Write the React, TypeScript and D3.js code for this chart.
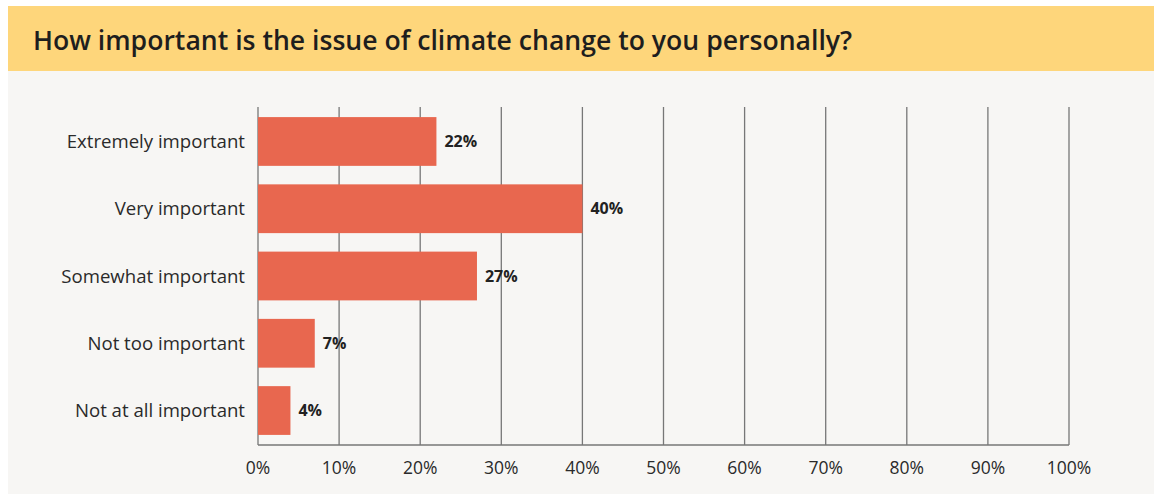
import React from "react";
import * as d3 from "d3";

const categories = [
  "Extremely important",
  "Very important",
  "Somewhat important",
  "Not too important",
  "Not at all important",
];
const values = [22, 40, 27, 7, 4];
const ticks = [0, 10, 20, 30, 40, 50, 60, 70, 80, 90, 100];
const title = "How important is the issue of climate change to you personally?";

export default function App() {
  const W = 1154;
  const H = 495;
  const x = d3.scaleLinear().domain([0, 100]).range([258, 1069]);
  const y = d3
    .scaleBand<string>()
    .domain(categories)
    .range([107, 445])
    .paddingInner(0.275)
    .paddingOuter(0.15);
  const font = "'Open Sans', 'Noto Sans', sans-serif";
  return (
    <div style={{ position: "absolute", left: 0, top: 0 }}>
      <svg width={W} height={H} style={{ display: "block" }}>
        <rect x={0} y={0} width={W} height={H} fill="#ffffff" />
        <rect x={8} y={6} width={W - 8} height={65} fill="#fed67b" />
        <rect x={8} y={71} width={W - 8} height={423} fill="#f7f6f4" />
        <text
          x={33}
          y={50}
          fontFamily={font}
          fontWeight={600}
          fontSize={26.6}
          fill="#1e1e1e"
        >
          {title}
        </text>
        {ticks.map((t) => (
          <line
            key={"g" + t}
            x1={x(t)}
            x2={x(t)}
            y1={107}
            y2={445}
            stroke="#777"
            strokeWidth={1.3}
          />
        ))}
        <line x1={x(0)} x2={x(100)} y1={445} y2={445} stroke="#777" strokeWidth={1.3} />
        {categories.map((c, i) => (
          <g key={c}>
            <rect
              x={x(0)}
              y={y(c)}
              width={x(values[i]) - x(0)}
              height={y.bandwidth()}
              fill="#e8674f"
            />
            <text
              x={245}
              y={(y(c) as number) + y.bandwidth() / 2}
              dy="0.35em"
              textAnchor="end"
              fontFamily={font}
              fontSize={18.6}
              fill="#2a2a2a"
            >
              {c}
            </text>
            <text
              x={x(values[i]) + 8}
              y={(y(c) as number) + y.bandwidth() / 2}
              dy="0.35em"
              fontFamily={font}
              fontWeight={700}
              fontSize={16}
              fill="#222"
            >
              {values[i] + "%"}
            </text>
          </g>
        ))}
        {ticks.map((t) => (
          <text
            key={"t" + t}
            x={x(t)}
            y={474}
            textAnchor="middle"
            fontFamily={font}
            fontSize={17.5}
            fill="#2a2a2a"
          >
            {t + "%"}
          </text>
        ))}
      </svg>
    </div>
  );
}
